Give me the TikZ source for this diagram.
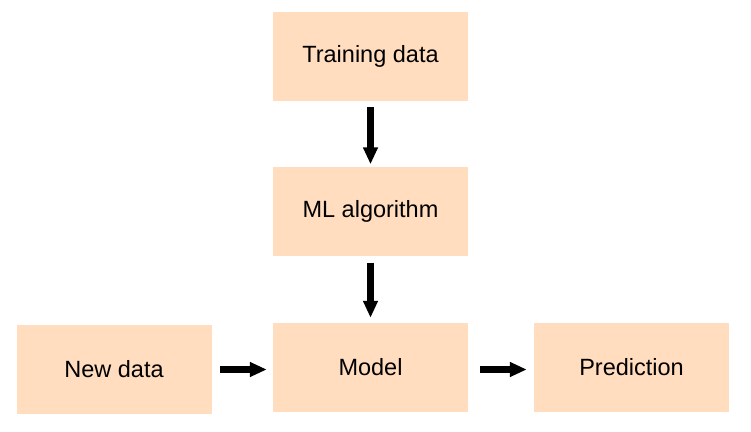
\documentclass[tikz,border=0pt]{standalone}
\usepackage{fontspec}
\setmainfont{Liberation Sans}
\usetikzlibrary{arrows.meta}
\definecolor{peach}{RGB}{255,221,190}

\begin{document}
\begin{tikzpicture}[x=1pt,y=-1pt,
        box/.style={fill=peach,minimum width=195pt,minimum height=89pt,inner sep=0pt,
            font=\fontsize{23.5}{28}\selectfont},
        flow/.style={line width=7pt,-{Triangle[length=17pt,width=14pt]}}]
        \useasboundingbox (0,0) rectangle (751,431);
        \node[box] at (370.5, 56.5)(train){Training data};
        \node[box] at (370.5, 211)(algo){ML algorithm};
        \node[box] at (114, 369.5)(new){New data};
        \node[box] at (370.5, 367.5)(model){Model};
        \node[box] at (631.5, 367.5)(pred){Prediction};

        \draw[flow, shorten <=6pt, shorten >=2pt] (train) -- (algo);
        \draw[flow, shorten <=7pt, shorten >=5pt] (algo) -- (model);
        \draw[flow, shorten <=8pt, shorten >=6pt] (new.east) -- (new.east -| model.west);
        \draw[flow, shorten <=12pt, shorten >=7pt] (model.east |- new.east) -- (new.east -| pred.west);
    \end{tikzpicture}
\end{document}
